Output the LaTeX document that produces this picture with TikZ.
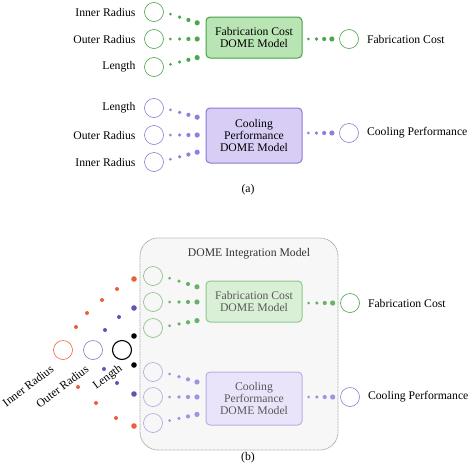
\documentclass[tikz,border=0pt]{standalone}
\usepackage{fontspec}
\setmainfont{Liberation Serif}
\usetikzlibrary{positioning,calc}
\definecolor{fabline}{RGB}{70,160,70}
\definecolor{fabfill}{RGB}{185,228,180}
\definecolor{fabdot}{RGB}{80,165,80}
\definecolor{coolline}{RGB}{140,120,210}
\definecolor{coolfill}{RGB}{216,206,245}
\definecolor{cooldot}{RGB}{145,128,218}
\definecolor{inred}{RGB}{235,95,60}
\definecolor{outpurple}{RGB}{105,80,180}
\tikzset{
  port/.style={circle,draw,minimum size=19pt,inner sep=0pt,line width=0.6pt},
  model/.style={draw,rounded corners=4pt,line width=1pt,align=center,minimum width=96pt,inner sep=2pt,font=\fontsize{11.7}{12}\selectfont},
  lab/.style={inner sep=1pt,font=\fontsize{11.7}{13}\selectfont},
  intbox/.style={draw=gray!70,dash pattern=on 1pt off 0.6pt,line width=0.8pt,fill=gray!6,rounded corners=18pt,minimum width=198pt,minimum height=212pt},
}
\newcommand{\dotchain}[3]{\foreach \f/\r in {0.16/1.5,0.38/1.8,0.59/2.1,0.8/2.6}{\fill[#1]($(#2)!\f!(#3)$)circle(\r pt);}}
\begin{document}
\begin{tikzpicture}[x=1pt,y=-1pt]
\useasboundingbox (0,0) rectangle (473,463);
% (a) fabrication cost model
\node[model,draw=fabline,fill=fabfill,minimum height=41pt] (fab) at (254,37.5) {Fabrication Cost\\DOME Model};
\node[port,draw=fabline] (fa1) at (154,12) {};
\node[port,draw=fabline] (fa2) at (154,39) {};
\node[port,draw=fabline] (fa3) at (154,67) {};
\node[port,draw=fabline] (fao) at (349,39) {};
\node[lab,left=7.5pt of fa1] (fal1) {Inner Radius};
\node[lab,left=7.5pt of fa2] (fal2) {Outer Radius};
\node[lab,left=7.5pt of fa3] (fal3) {Length};
\node[lab,right=7pt of fao] (falo) {Fabrication Cost};
\coordinate (fab-in1) at ($(fab.west)+(0,-12)$);
\coordinate (fab-in2) at ($(fab.west)+(0,1.5)$);
\coordinate (fab-in3) at ($(fab.west)+(0,18)$);
\coordinate (fab-out) at ($(fab.east)+(0,1.5)$);
\dotchain{fabdot}{fa1.east}{fab-in1}
\dotchain{fabdot}{fa2.east}{fab-in2}
\dotchain{fabdot}{[yshift=1pt]fa3.east}{fab-in3}
\dotchain{fabdot}{fab-out}{fao.west}
% (a) cooling performance model
\node[model,draw=coolline,fill=coolfill,minimum height=55pt] (cool) at (254,135.5) {Cooling\\Performance\\DOME Model};
\node[port,draw=coolline] (ca1) at (154,108) {};
\node[port,draw=coolline] (ca2) at (154,135) {};
\node[port,draw=coolline] (ca3) at (154,162) {};
\node[port,draw=coolline] (cao) at (349,133) {};
\node[lab,left=7.5pt of ca1] (cal1) {Length};
\node[lab,left=7.5pt of ca2] (cal2) {Outer Radius};
\node[lab,left=7.5pt of ca3] (cal3) {Inner Radius};
\node[lab,right=7pt of cao] (calo) {Cooling Performance};
\coordinate (cool-in1) at ($(cool.west)+(0,-16)$);
\coordinate (cool-in2) at ($(cool.west)+(0,-0.5)$);
\coordinate (cool-in3) at ($(cool.west)+(0,14.5)$);
\coordinate (cool-out) at ($(cool.east)+(0,-2.5)$);
\dotchain{cooldot}{ca1.east}{cool-in1}
\dotchain{cooldot}{ca2.east}{cool-in2}
\dotchain{cooldot}{[yshift=1pt]ca3.east}{cool-in3}
\dotchain{cooldot}{cool-out}{cao.west}
\node[lab] (capa) at (248,190) {(a)};
% (b) integration model
\node[intbox] (dome) at (239,344) {};
\node[lab,text=black!80] (domet) at (249,254) {DOME Integration Model};
\node[model,draw=fabline!60,fill=fabfill!55,text=black!65,minimum height=41pt] (fabb) at (254,301.5) {Fabrication Cost\\DOME Model};
\node[port,draw=fabline!70] (fb1) at (153,276) {};
\node[port,draw=fabline!70] (fb2) at (153,302) {};
\node[port,draw=fabline!70] (fb3) at (153,328) {};
\node[port,draw=fabline] (fbo) at (350,303) {};
\node[lab,right=7pt of fbo] (fblo) {Fabrication Cost};
\coordinate (fabb-in1) at ($(fabb.west)+(0,-12)$);
\coordinate (fabb-in2) at ($(fabb.west)+(0,0.5)$);
\coordinate (fabb-in3) at ($(fabb.west)+(0,17.5)$);
\coordinate (fabb-out) at ($(fabb.east)+(0,1.5)$);
\dotchain{fabdot!85}{fb1.east}{fabb-in1}
\dotchain{fabdot!85}{fb2.east}{fabb-in2}
\dotchain{fabdot!85}{[yshift=1pt]fb3.east}{fabb-in3}
\dotchain{fabdot!85}{fabb-out}{fbo.west}
\node[model,draw=coolline!60,fill=coolfill!55,text=black!65,minimum height=53pt] (coolb) at (254,398.5) {Cooling\\Performance\\DOME Model};
\node[port,draw=coolline!70] (cb1) at (153,372) {};
\node[port,draw=coolline!70] (cb2) at (153,397) {};
\node[port,draw=coolline!70] (cb3) at (153,423) {};
\node[port,draw=coolline] (cbo) at (350,397) {};
\node[lab,right=7pt of cbo] (cblo) {Cooling Performance};
\coordinate (coolb-in1) at ($(coolb.west)+(0,-14)$);
\coordinate (coolb-in2) at ($(coolb.west)+(0,-1.5)$);
\coordinate (coolb-in3) at ($(coolb.west)+(0,14)$);
\coordinate (coolb-out) at ($(coolb.east)+(0,-1.5)$);
\dotchain{cooldot!85}{cb1.east}{coolb-in1}
\dotchain{cooldot!85}{cb2.east}{coolb-in2}
\dotchain{cooldot!85}{[yshift=1pt]cb3.east}{coolb-in3}
\dotchain{cooldot!85}{coolb-out}{cbo.west}
% shared inputs
\node[port,draw=inred] (inr) at (63,350) {};
\node[port,draw=outpurple!80] (outr) at (93,350) {};
\node[port,draw=black,line width=1.1pt] (len) at (122,350) {};
\node[lab,rotate=37,anchor=east] (inrl) at ([shift={(-10,17)}]inr.center) {Inner Radius};
\node[lab,rotate=37,anchor=east] (outrl) at ([shift={(-5,17)}]outr.center) {Outer Radius};
\node[lab,rotate=37,anchor=east] (lenl) at ([shift={(0,17)}]len.center) {Length};
\foreach \x/\y in {76/327,87/313,102/300,117/289,78/387,96/403,116/418}{\fill[inred](\x,\y)circle(2pt);}
\foreach \y in {279,426}{\fill[inred](134,\y)circle(2.8pt);}
\foreach \x/\y in {105/330,119/317,104/369,117/383}{\fill[outpurple](\x,\y)circle(2pt);}
\foreach \y in {308,394}{\fill[outpurple](134,\y)circle(2.8pt);}
\foreach \y in {336,365}{\fill[black](134,\y)circle(2.8pt);}
\node[lab] (capb) at (248,458) {(b)};
\end{tikzpicture}
\end{document}
